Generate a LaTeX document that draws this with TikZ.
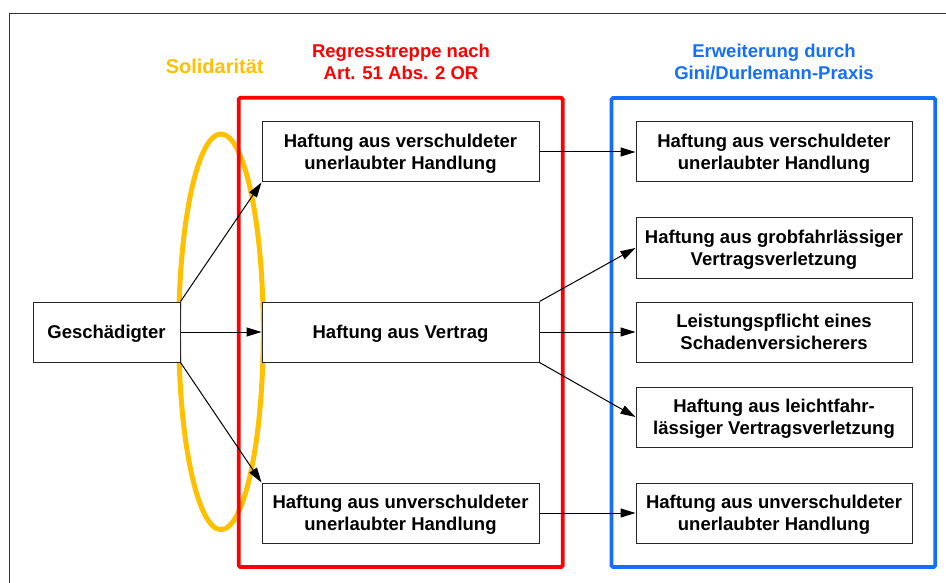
\documentclass[tikz,border=0pt]{standalone}
\usepackage{fontspec}
\setmainfont{Liberation Sans}
\usetikzlibrary{arrows.meta}
\definecolor{solidcol}{RGB}{255,192,0}
\definecolor{regred}{RGB}{255,0,0}
\definecolor{ginblue}{RGB}{20,110,255}
\begin{document}
\begin{tikzpicture}[x=1pt,y=-1pt,
  box/.style={draw=black!85, line width=1pt, fill=white, minimum width=277pt, minimum height=60pt, inner sep=0pt, text depth=0pt, align=center, font=\fontsize{18.5}{22.5}\selectfont\bfseries},
  rbox/.style={box, minimum width=276pt},
  conn/.style={draw=black, line width=1pt, -{Triangle[length=15pt,width=9pt]}},
  title/.style={align=center, anchor=base, inner sep=0pt, font=\fontsize{18.5}{22}\selectfont\bfseries},
  frame/.style={draw=black!80, line width=1.3pt},
  group/.style={line width=3.8pt, rounded corners=1.5pt}
]
\useasboundingbox (0,0) rectangle (946,583);
\draw[frame] (9.5,600) -- (9.5,13.3) -- (960,13.3);
% solidarity ellipse
\draw[draw=solidcol, line width=5pt] (221,331.8) ellipse [x radius=42.3pt, y radius=197.8pt];
% group frames
\draw[group, draw=regred] (238.7,97.8) rectangle (562.7,567);
\draw[group, draw=ginblue] (611.5,98) rectangle (935.3,567);
% titles
\node[title, text=solidcol, font=\fontsize{20}{24}\selectfont\bfseries] (tsol) at (214.7,74) {Solidarität};
\node[title, text=regred] (treg) at (401,79.3) {Regresstreppe nach\\Art. 51 Abs. 2 OR};
\node[title, text=ginblue] (tgin) at (774,79.3) {Erweiterung durch\\Gini/Durlemann-Praxis};
% boxes
\node[box, minimum width=147pt] (ges) at (106.5,332) {Geschädigter};
\node[box] (lv) at (400.5,152) {Haftung aus verschuldeter\\unerlaubter Handlung};
\node[box] (lvert) at (400.5,332) {Haftung aus Vertrag};
\node[box] (lu) at (400.5,513) {Haftung aus unverschuldeter\\unerlaubter Handlung};
\node[rbox] (r1) at (774,152) {Haftung aus verschuldeter\\unerlaubter Handlung};
\node[rbox] (r2) at (774,248) {Haftung aus grobfahrlässiger\\Vertragsverletzung};
\node[rbox] (r3) at (774,332) {Leistungspflicht eines\\Schadenversicherers};
\node[rbox] (r4) at (774,417) {Haftung aus leichtfahr-\\lässiger Vertragsverletzung};
\node[rbox] (r5) at (774,513) {Haftung aus unverschuldeter\\unerlaubter Handlung};
% connectors
\draw[conn] (ges.north east) -- (lv.south west);
\draw[conn] (ges.east) -- (lvert.west);
\draw[conn] (ges.south east) -- (lu.north west);
\draw[conn] (lv.east) -- (r1.west);
\draw[conn] (lvert.north east) -- (r2.west);
\draw[conn] (lvert.east) -- (r3.west);
\draw[conn] (lvert.south east) -- (r4.west);
\draw[conn] (lu.east) -- (r5.west);
\end{tikzpicture}
\end{document}
